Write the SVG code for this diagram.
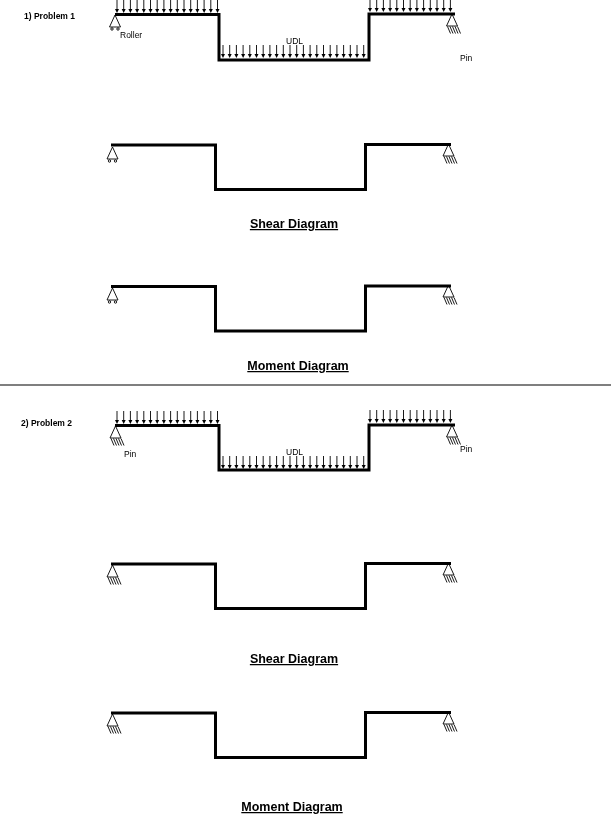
<svg xmlns="http://www.w3.org/2000/svg" xmlns:xlink="http://www.w3.org/1999/xlink" width="611" height="830" viewBox="0 0 611 830">
<style>
text{font-family:"Liberation Sans",Arial,sans-serif;fill:#000;will-change:opacity}
.lab{font-size:8.5px}
.prob{font-size:8.5px;font-weight:bold}
.title{font-size:12.5px;font-weight:bold;text-decoration:underline}
.beam{fill:none;stroke:#000;stroke-width:3}
.thin{fill:none;stroke:#000;stroke-width:.9}
.div{stroke:#000;stroke-width:1.2}
</style>
<defs>
<g id="arrow"><path class="thin" d="M0 0V10"/><path d="M-2 9L0 13L2 9Z" fill="#000"/></g>
<g id="tri"><path class="thin" d="M0 0L-5.500 12H5.500Z"/></g>
<g id="roller"><use xlink:href="#tri"/><circle class="thin" cx="-3" cy="14" r="1.200"/><circle class="thin" cx="3" cy="14" r="1.200"/></g>
<g id="pin"><use xlink:href="#tri"/><path class="thin" d="M-4.500 12.500L-1.500 19.500M-2 12.500L1 19.500M.5 12.500L3.500 19.500M3 12.500L6 19.500M5.500 12.500L8.500 19.500"/></g>
<g id="run13"><use xlink:href="#arrow" x="0"/><use xlink:href="#arrow" x="6.700"/><use xlink:href="#arrow" x="13.400"/><use xlink:href="#arrow" x="20.100"/><use xlink:href="#arrow" x="26.800"/><use xlink:href="#arrow" x="33.500"/><use xlink:href="#arrow" x="40.200"/><use xlink:href="#arrow" x="46.900"/><use xlink:href="#arrow" x="53.600"/><use xlink:href="#arrow" x="60.300"/><use xlink:href="#arrow" x="67"/><use xlink:href="#arrow" x="73.700"/><use xlink:href="#arrow" x="80.400"/></g>
<g id="run3"><use xlink:href="#arrow" x="0"/><use xlink:href="#arrow" x="6.700"/><use xlink:href="#arrow" x="13.400"/></g>
<g id="load">
<use xlink:href="#run13" x="117"/><use xlink:href="#run3" x="204.100"/>
<use xlink:href="#run13" x="223" y="45"/><use xlink:href="#run3" x="310.100" y="45"/><use xlink:href="#run3" x="330.200" y="45"/><use xlink:href="#run3" x="350.300" y="45"/>
<use xlink:href="#run13" x="370" y="-1"/>
</g>
<path id="beamShape" class="beam" d="M0 0H104.500V44.500H254.500V-0.500H340"/>
</defs>

<g id="problem1">
<text class="prob" x="24" y="19">1) Problem 1</text>
<g id="p1-loads"><use xlink:href="#load"/></g>
<g id="p1-beam"><path class="beam" d="M115 14.500H219V60H369V14H455"/></g>
<g id="p1-roller"><use xlink:href="#roller" x="115" y="15"/></g>
<g id="p1-pin"><use xlink:href="#pin" x="452" y="14"/></g>
<text class="lab" x="120" y="38">Roller</text>
<text class="lab" x="286" y="44">UDL</text>
<text class="lab" x="460" y="61">Pin</text>
</g>

<g id="shear1">
<use xlink:href="#beamShape" x="111" y="145"/>
<use xlink:href="#roller" x="112.500" y="147"/>
<use xlink:href="#pin" x="448.500" y="144"/>
<text class="title" x="294" y="228" text-anchor="middle">Shear Diagram</text>
</g>

<g id="moment1">
<use xlink:href="#beamShape" x="111" y="286.500"/>
<use xlink:href="#roller" x="112.500" y="288"/>
<use xlink:href="#pin" x="448.500" y="285"/>
<text class="title" x="298" y="370" text-anchor="middle">Moment Diagram</text>
</g>

<line class="div" x1="0" y1="385" x2="611" y2="385"/>

<g id="problem2">
<text class="prob" x="21" y="426">2) Problem 2</text>
<g id="p2-loads"><use xlink:href="#load" y="411"/></g>
<g id="p2-beam"><path class="beam" d="M115 425.500H219V470H369V425H455"/></g>
<g id="p2-pin-left"><use xlink:href="#pin" x="115.500" y="426"/></g>
<g id="p2-pin-right"><use xlink:href="#pin" x="452" y="425"/></g>
<text class="lab" x="124" y="457">Pin</text>
<text class="lab" x="286" y="455">UDL</text>
<text class="lab" x="460" y="452">Pin</text>
</g>

<g id="shear2">
<use xlink:href="#beamShape" x="111" y="564"/>
<use xlink:href="#pin" x="112.500" y="565"/>
<use xlink:href="#pin" x="448.500" y="563"/>
<text class="title" x="294" y="663" text-anchor="middle">Shear Diagram</text>
</g>

<g id="moment2">
<use xlink:href="#beamShape" x="111" y="713"/>
<use xlink:href="#pin" x="112.500" y="714"/>
<use xlink:href="#pin" x="448.500" y="712"/>
<text class="title" x="292" y="811" text-anchor="middle">Moment Diagram</text>
</g>
</svg>
